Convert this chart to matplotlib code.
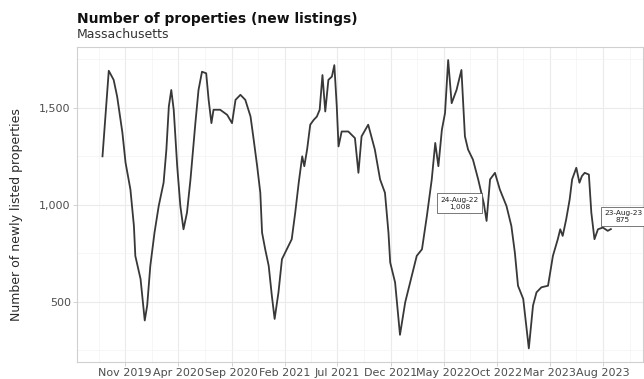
import matplotlib
matplotlib.use("Agg")
import matplotlib.pyplot as plt
import matplotlib.dates as mdates
import numpy as np
import pandas as pd
from matplotlib.ticker import FuncFormatter, FixedLocator

# ---- data ----
dates = [
    "2019-08-28", "2019-09-15", "2019-09-29", "2019-10-09", "2019-10-24", "2019-11-02",
    "2019-11-16", "2019-11-26", "2019-11-30", "2019-12-15", "2019-12-27", "2020-01-03",
    "2020-01-12", "2020-01-24", "2020-02-05", "2020-02-19", "2020-02-27", "2020-03-05",
    "2020-03-12", "2020-03-19", "2020-03-29", "2020-04-07", "2020-04-16", "2020-04-26",
    "2020-05-06", "2020-05-20", "2020-05-29", "2020-06-08", "2020-06-20", "2020-06-27",
    "2020-07-05", "2020-07-11", "2020-07-30", "2020-08-19", "2020-09-02", "2020-09-12",
    "2020-09-26", "2020-10-10", "2020-10-25", "2020-11-03", "2020-11-13", "2020-11-22",
    "2020-11-27", "2020-12-06", "2020-12-16", "2020-12-25", "2021-01-02", "2021-01-13",
    "2021-01-23", "2021-02-06", "2021-02-20", "2021-03-02", "2021-03-12", "2021-03-22",
    "2021-03-28", "2021-04-05", "2021-04-14", "2021-04-24", "2021-05-03", "2021-05-11",
    "2021-05-19", "2021-05-27", "2021-06-05", "2021-06-15", "2021-06-22", "2021-06-29",
    "2021-07-04", "2021-07-13", "2021-08-01", "2021-08-20", "2021-08-30", "2021-09-08",
    "2021-09-27", "2021-10-16", "2021-10-31", "2021-11-14", "2021-11-24", "2021-11-29",
    "2021-12-13", "2021-12-27", "2022-01-11", "2022-01-25", "2022-02-13", "2022-02-28",
    "2022-03-14", "2022-03-28", "2022-04-07", "2022-04-16", "2022-04-26", "2022-05-05",
    "2022-05-14", "2022-05-24", "2022-06-07", "2022-06-21", "2022-07-01", "2022-07-10",
    "2022-07-24", "2022-08-08", "2022-08-24", "2022-09-01", "2022-09-11", "2022-09-25",
    "2022-10-09", "2022-10-28", "2022-11-11", "2022-11-21", "2022-11-30", "2022-12-15",
    "2022-12-31", "2023-01-12", "2023-01-22", "2023-02-05", "2023-02-24", "2023-03-10",
    "2023-03-24", "2023-03-31", "2023-04-07", "2023-04-17", "2023-04-27", "2023-05-04",
    "2023-05-16", "2023-05-25", "2023-06-01", "2023-06-09", "2023-06-21", "2023-06-28",
    "2023-07-07", "2023-07-17", "2023-07-31", "2023-08-14", "2023-08-23",
]
listings = [
    1250, 1691, 1644, 1558, 1372, 1218,
    1079, 891, 737, 618, 404, 481,
    686, 857, 994, 1114, 1285, 1507,
    1592, 1490, 1199, 994, 874, 960,
    1131, 1421, 1592, 1686, 1678, 1541,
    1421, 1490, 1490, 1464, 1421, 1541,
    1567, 1541, 1455, 1336, 1199, 1062,
    857, 771, 686, 532, 412, 549,
    720, 771, 823, 960, 1114, 1250,
    1199, 1285, 1413, 1438, 1455, 1490,
    1669, 1481, 1644, 1661, 1720, 1507,
    1301, 1378, 1378, 1344, 1165, 1353,
    1413, 1285, 1131, 1062, 857, 703,
    600, 330, 498, 600, 737, 771,
    942, 1131, 1319, 1199, 1387, 1473,
    1746, 1524, 1592, 1695, 1353, 1285,
    1233, 1131, 1008, 917, 1131, 1165,
    1079, 994, 891, 754, 583, 515,
    260, 481, 549, 575, 583, 737,
    823, 874, 840, 925, 1028, 1131,
    1191, 1114, 1148, 1165, 1156, 960,
    823, 874, 883, 866, 875,
]
x_tick_dates = ["2019-11-01", "2020-04-01", "2020-09-01", "2021-02-01", "2021-07-01",
                "2021-12-01", "2022-05-01", "2022-10-01", "2023-03-01", "2023-08-01"]
x_tick_labels = ["Nov 2019", "Apr 2020", "Sep 2020", "Feb 2021", "Jul 2021",
                 "Dec 2021", "May 2022", "Oct 2022", "Mar 2023", "Aug 2023"]
y_ticks = [500, 1000, 1500]
y_minor = [250, 750, 1250, 1750]
annot_dates = ["2022-08-24", "2023-08-23"]
annot_values = [1008, 875]
annot_texts = ["24-Aug-22\n1,008", "23-Aug-23\n875"]

title = "Number of properties (new listings)"
subtitle = "Massachusetts"
ylabel = "Number of newly listed properties"

# ---- figure ----
W, H = 644, 379
fig = plt.figure(figsize=(W / 100, H / 100), dpi=100)
left, right, top, bottom = 77, 643, 46.7, 362
ax = fig.add_axes([left / W, 1 - bottom / H, (right - left) / W, (bottom - top) / H])

x = pd.to_datetime(dates)
ax.plot(x, listings, color="#383838", lw=1.3, solid_joinstyle="round", zorder=3)

xt = mdates.date2num(pd.to_datetime(x_tick_dates))
ax.set_xticks(xt)
ax.set_xticklabels(x_tick_labels)
step = xt[1] - xt[0]
xminor = list((xt[:-1] + xt[1:]) / 2) + [xt[0] - step / 2, xt[-1] + step / 2]
ax.xaxis.set_minor_locator(FixedLocator(xminor))

ax.set_yticks(y_ticks)
ax.yaxis.set_major_formatter(FuncFormatter(lambda v, p: f"{int(v):,}"))
ax.yaxis.set_minor_locator(FixedLocator(y_minor))

ax.set_xlim(mdates.date2num(pd.Timestamp("2019-06-16")), mdates.date2num(pd.Timestamp("2023-11-23")))
ax.set_ylim(190, 1815)

ax.grid(which="major", color="#ebebeb", lw=0.8)
ax.grid(which="minor", color="#f3f3f3", lw=0.5)
ax.set_axisbelow(True)
for s in ax.spines.values():
    s.set_color("#d0d0d0")
    s.set_linewidth(0.8)

ax.tick_params(axis="both", which="major", labelsize=8, labelcolor="#4d4d4d",
               color="#cccccc", length=3, width=0.6, pad=1.5)
ax.tick_params(axis="both", which="minor", length=0)

fig.text(17 / W, 1 - 215 / H, ylabel, rotation=90, fontsize=9,
         color="#2a2a2a", ha="center", va="center")

# annotations
offsets = [(-3.5, 0), (-5, 9)]
has = ["right", "left"]
for d, v, t, off, ha in zip(annot_dates, annot_values, annot_texts, offsets, has):
    ax.annotate(t, xy=(pd.Timestamp(d), v), xytext=off, textcoords="offset points",
                ha=ha, va="center", multialignment="center", fontsize=5.3, color="#222222",
                bbox=dict(boxstyle="square,pad=0.45", fc="white", ec="#444444", lw=0.5),
                zorder=5, annotation_clip=False)

fig.text(left / W, 1 - 19 / H, title, fontsize=10, fontweight="bold", color="#111111",
         ha="left", va="center")
fig.text(left / W, 1 - 35 / H, subtitle, fontsize=9, color="#333333", ha="left", va="center")

fig.savefig("out.png", dpi=100)
